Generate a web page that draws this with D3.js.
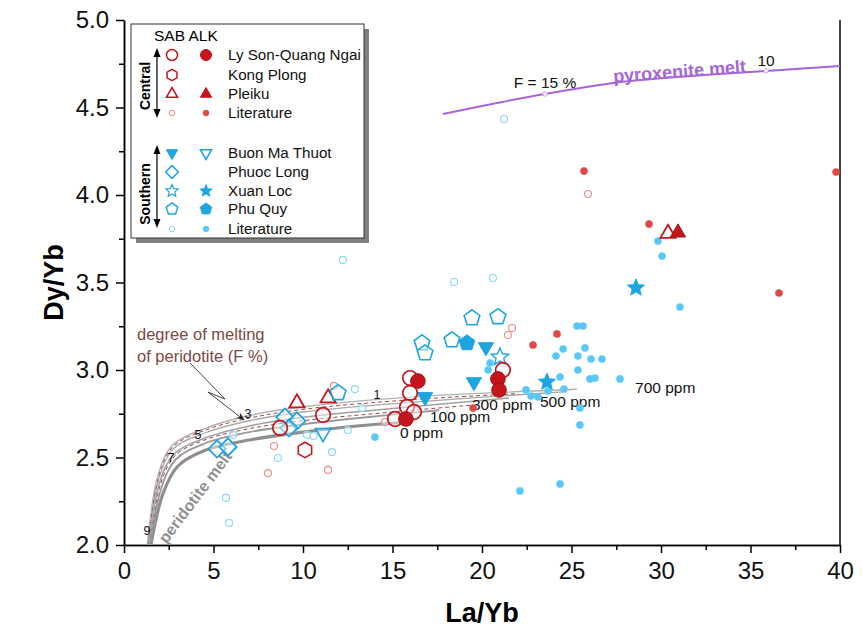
<!DOCTYPE html>
<html>
<head>
<meta charset="utf-8">
<script src="https://cdn.jsdelivr.net/npm/d3@7/dist/d3.min.js"></script>
<style>
body { margin: 0; background: #fff; }
text { font-family: Arial, "Liberation Sans", sans-serif; }
</style>
</head>
<body>
<div id="chart"></div>
<script>
// ---- data (La/Yb, Dy/Yb) ----
var xTicks = [0, 5, 10, 15, 20, 25, 30, 35, 40];
var yTicks = [2.0, 2.5, 3.0, 3.5, 4.0, 4.5, 5.0];

// Central Vietnam
var lySonSAB = [[15.98, 2.954], [15.98, 2.869], [15.81, 2.789], [15.14, 2.72], [16.2, 2.76], [21.17, 3.0], [11.12, 2.743], [8.72, 2.669]];
var lySonALK = [[16.42, 2.937], [15.75, 2.72], [20.89, 2.949], [20.95, 2.886]];
var kongPlongSAB = [[10.11, 2.543]];
var pleikuSAB = [[9.66, 2.811], [11.4, 2.84], [30.39, 3.78]];
var pleikuALK = [[30.95, 3.785]];
var centralLitSAB = [[25.92, 4.006], [21.68, 3.24], [21.45, 3.2], [8.38, 2.566], [8.04, 2.411], [11.4, 2.429], [11.73, 2.909], [14.58, 2.703]];
var centralLitALK = [[25.7, 4.137], [39.78, 4.131], [29.33, 3.834], [36.59, 3.44], [24.19, 3.206], [22.85, 3.143], [19.5, 2.783]];

// Southern Vietnam
var buonMaThuotSAB = [[20.22, 3.131], [19.55, 2.931], [16.82, 2.846]];
var buonMaThuotALK = [[11.12, 2.64]];
var phuocLongSAB = [[5.2, 2.549], [5.81, 2.56], [8.99, 2.731], [9.66, 2.709], [9.22, 2.669]];
var xuanLocSAB = [[21.0, 3.074]];
var xuanLocALK = [[23.63, 2.931], [28.6, 3.469]];
var phuQuySAB = [[19.44, 3.297], [20.89, 3.303], [18.32, 3.171], [16.65, 3.154], [16.82, 3.097], [11.96, 2.869]];
var phuQuyALK = [[19.16, 3.154]];
var southLitSAB = [[21.23, 4.434], [12.23, 3.629], [18.44, 3.503], [20.61, 3.526], [12.9, 2.891], [13.3, 2.783], [12.5, 2.657],
    [5.7, 2.269], [5.87, 2.126], [6.09, 2.629], [8.6, 2.497], [10.22, 2.629], [10.6, 2.623], [11.62, 2.531]];
var southLitALK = [[31.06, 3.36], [25.31, 3.251], [25.64, 3.251], [25.75, 3.126], [24.53, 3.12], [24.13, 3.08], [25.36, 3.08],
    [26.09, 3.063], [26.7, 3.063], [25.36, 3.0], [24.36, 2.96], [26.03, 2.949], [26.31, 2.954], [27.71, 2.949],
    [22.46, 2.886], [22.74, 2.851], [23.13, 2.846], [23.69, 2.88], [24.58, 2.891], [25.47, 2.783], [25.47, 2.686],
    [29.83, 3.737], [30.06, 3.651], [22.12, 2.309], [24.36, 2.349], [20.45, 3.04], [20.34, 3.0], [14.02, 2.617]];

// peridotite melting curves (different ppm)
var perid0 = [[1.5, 2.0], [2.2, 2.3], [3.0, 2.45], [4.5, 2.54], [7, 2.6], [10, 2.645], [13, 2.68], [15.6, 2.7]];
var perid100 = [[1.45, 2.0], [2.1, 2.33], [2.9, 2.49], [4.5, 2.58], [7, 2.645], [10, 2.69], [14, 2.735], [17.6, 2.77]];
var perid300 = [[1.4, 2.0], [2.0, 2.36], [2.8, 2.52], [4.5, 2.61], [7, 2.68], [10, 2.73], [15, 2.78], [21.5, 2.84]];
var perid500 = [[1.35, 2.0], [1.95, 2.38], [2.75, 2.55], [4.5, 2.64], [7, 2.71], [10, 2.76], [16, 2.815], [24.5, 2.875]];
var perid700 = [[1.3, 2.0], [1.9, 2.4], [2.7, 2.57], [4.5, 2.665], [7, 2.74], [10, 2.79], [16, 2.845], [25.3, 2.89]];
var peridDashA = [[1.42, 2.0], [2.05, 2.35], [2.85, 2.51], [4.5, 2.6], [7, 2.665], [10, 2.71], [15, 2.76], [19.5, 2.8]];
var peridDashB = [[1.33, 2.0], [1.92, 2.39], [2.72, 2.56], [4.5, 2.655], [7, 2.725], [10, 2.775], [16, 2.83], [22, 2.865]];
var peridPpmLabels = ["0 ppm", "100 ppm", "300 ppm", "500 ppm", "700 ppm"];
var peridPpmPos = [[15.42, 2.611], [17.09, 2.703], [19.44, 2.771], [23.24, 2.789], [28.55, 2.869]];
var peridF = ["9", "7", "5", "3", "1"];
var peridFPos = [[1.28, 2.08], [2.63, 2.5], [4.13, 2.63], [6.93, 2.75], [14.13, 2.86]];

// pyroxenite melt
var pyroxMelt = [[17.82, 4.463], [20.84, 4.526], [23.52, 4.577], [28.27, 4.651], [35.87, 4.709], [40, 4.737]];
var pyroxMarks = [[23.52, 4.577], [35.87, 4.709]];

// arrow "degree of melting"
var meltArrow = [[3.69, 3.04], [5.64, 2.834], [4.69, 2.874], [6.7, 2.715]];

// ---- layout ----
var W = 862, H = 637;
var margin = { top: 20, right: 22, bottom: 92, left: 124 };
var width = W - margin.left - margin.right;
var height = H - margin.top - margin.bottom;

var red = "#c4161c", redLit = "#e04848", redLitO = "#e88a8a";
var blue = "#1ea5e0", blueLit = "#5ac8f7", blueLitO = "#8ad6f5";
var brown = "#9a4a44", purple = "#a466d8";

var svg = d3.select("#chart").append("svg")
    .attr("width", W)
    .attr("height", H);

var g = svg.append("g")
    .attr("transform", "translate(" + margin.left + "," + margin.top + ")");

var x = d3.scaleLinear().domain([0, 40]).range([0, width]);
var y = d3.scaleLinear().domain([2, 5]).range([height, 0]);

// axes
var xAxis = d3.axisBottom(x).tickValues(xTicks).tickSize(8).tickSizeOuter(0).tickFormat(d3.format("d"));
var xMinor = d3.axisBottom(x).tickValues(d3.range(2.5, 40, 5)).tickSize(5).tickSizeOuter(0).tickFormat("");
var yAxis = d3.axisLeft(y).tickValues(yTicks).tickSize(8).tickSizeOuter(0).tickFormat(d3.format(".1f"));
var yMinor = d3.axisLeft(y).tickValues(d3.range(2.25, 5, 0.5)).tickSize(5).tickSizeOuter(0).tickFormat("");

function styleAxis(sel) {
    sel.selectAll("path").attr("stroke", "#000").attr("stroke-width", 1.5);
    sel.selectAll("line").attr("stroke", "#000").attr("stroke-width", 1.5);
    sel.selectAll("text").attr("font-size", "24px").attr("fill", "#111");
}

var gx = g.append("g").attr("transform", "translate(0," + height + ")").call(xAxis);
gx.call(styleAxis);
gx.selectAll("text").attr("dy", "0.95em");
g.append("g").attr("transform", "translate(0," + height + ")").call(xMinor).call(styleAxis);
var gy = g.append("g").call(yAxis);
gy.call(styleAxis);
gy.selectAll("text").attr("x", -15);
g.append("g").call(yMinor).call(styleAxis);

g.append("line")
    .attr("x1", width).attr("x2", width)
    .attr("y1", 0).attr("y2", height)
    .attr("stroke", "#000").attr("stroke-width", 1.5);

g.append("text")
    .attr("x", width / 2).attr("y", height + 77)
    .attr("text-anchor", "middle")
    .attr("font-size", "27px").attr("font-weight", "bold")
    .text("La/Yb");

g.append("text")
    .attr("transform", "translate(-61," + (height / 2) + ") rotate(-90)")
    .attr("text-anchor", "middle")
    .attr("font-size", "27px").attr("font-weight", "bold")
    .text("Dy/Yb");

// ---- curves ----
var line = d3.line()
    .curve(d3.curveCatmullRom)
    .x(function(d) { return x(d[0]); })
    .y(function(d) { return y(d[1]); });

var gCurves = g.append("g");
var curveStyles = [
    { data: perid0, stroke: "#8f8f8f", w: 3.2, dash: null },
    { data: perid100, stroke: "#9a9a9a", w: 1.8, dash: null },
    { data: peridDashA, stroke: brown, w: 1, dash: "4,3" },
    { data: perid300, stroke: "#a0a0a0", w: 1.6, dash: null },
    { data: perid500, stroke: "#a8a8a8", w: 1.3, dash: null },
    { data: peridDashB, stroke: brown, w: 1, dash: "4,3" },
    { data: perid700, stroke: "#b0b0b0", w: 1.3, dash: null }
];
curveStyles.forEach(function(c) {
    gCurves.append("path")
        .attr("d", line(c.data))
        .attr("fill", "none")
        .attr("stroke", c.stroke)
        .attr("stroke-width", c.w)
        .attr("stroke-dasharray", c.dash);
});

peridPpmLabels.forEach(function(t, i) {
    gCurves.append("text")
        .attr("x", x(peridPpmPos[i][0])).attr("y", y(peridPpmPos[i][1]))
        .attr("font-size", "15.5px").attr("fill", "#111")
        .text(t);
});

peridF.forEach(function(t, i) {
    gCurves.append("text")
        .attr("x", x(peridFPos[i][0])).attr("y", y(peridFPos[i][1]))
        .attr("font-size", "12.5px").attr("fill", "#111")
        .attr("text-anchor", "middle")
        .attr("dy", "0.35em")
        .text(t);
});

gCurves.append("text")
    .attr("transform", "translate(" + x(3.97) + "," + y(2.274) + ") rotate(-53)")
    .attr("text-anchor", "middle")
    .attr("dy", "0.35em")
    .attr("font-size", "16px").attr("font-weight", "bold").attr("fill", "#909090")
    .text("peridotite melt");

gCurves.append("text")
    .attr("x", 13).attr("y", 320)
    .attr("font-size", "16.5px").attr("fill", "#7a4a44")
    .text("degree of melting");
gCurves.append("text")
    .attr("x", 13).attr("y", 342)
    .attr("font-size", "16.5px").attr("fill", "#7a4a44")
    .text("of peridotite (F %)");

svg.append("defs").append("marker")
    .attr("id", "ah").attr("viewBox", "0 0 10 10")
    .attr("refX", 9).attr("refY", 5)
    .attr("markerWidth", 9).attr("markerHeight", 9)
    .attr("orient", "auto")
    .append("path").attr("d", "M0,1L10,5L0,9L3,5Z").attr("fill", "#222");

gCurves.append("path")
    .attr("d", d3.line().x(function(d) { return x(d[0]); }).y(function(d) { return y(d[1]); })(meltArrow))
    .attr("fill", "none").attr("stroke", "#333").attr("stroke-width", 0.9)
    .attr("marker-end", "url(#ah)");

// pyroxenite melt
gCurves.append("path")
    .attr("d", line(pyroxMelt))
    .attr("fill", "none").attr("stroke", purple).attr("stroke-width", 2);
gCurves.selectAll(".pm").data(pyroxMarks).enter().append("circle")
    .attr("cx", function(d) { return x(d[0]); })
    .attr("cy", function(d) { return y(d[1]); })
    .attr("r", 2.2).attr("fill", "#fff").attr("stroke", "#c9a0e8").attr("stroke-width", 1);
gCurves.append("text")
    .attr("x", x(23.52)).attr("y", y(4.577) - 6)
    .attr("text-anchor", "middle").attr("font-size", "15.5px").attr("fill", "#111")
    .text("F = 15 %");
gCurves.append("text")
    .attr("x", x(35.87)).attr("y", y(4.709) - 5)
    .attr("text-anchor", "middle").attr("font-size", "15.5px").attr("fill", "#111")
    .text("10");
gCurves.append("text")
    .attr("transform", "translate(" + x(31.06) + "," + y(4.672) + ") rotate(-4.3)")
    .attr("text-anchor", "middle").attr("font-size", "18px").attr("font-weight", "bold").attr("fill", purple)
    .text("pyroxenite melt");

// ---- markers ----
function polyPath(n, r, rot, inner) {
    var pts = [];
    var k = inner ? n * 2 : n;
    for (var i = 0; i < k; i++) {
        var a = rot + i * 2 * Math.PI / k;
        var rr = (inner && i % 2 == 1) ? r * inner : r;
        pts.push([rr * Math.cos(a), rr * Math.sin(a)]);
    }
    return "M" + pts.map(function(p) { return p[0].toFixed(2) + "," + p[1].toFixed(2); }).join("L") + "Z";
}

function shape(type, r) {
    if (type == "circle") return d3.symbol(d3.symbolCircle, Math.PI * r * r)();
    if (type == "triangle") return polyPath(3, r * 1.25, -Math.PI / 2);
    if (type == "tridown") return polyPath(3, r * 1.25, Math.PI / 2);
    if (type == "diamond") return polyPath(4, r * 1.15, 0);
    if (type == "pentagon") return polyPath(5, r * 1.1, -Math.PI / 2);
    if (type == "hexagon") return polyPath(6, r * 1.1, -Math.PI / 2);
    if (type == "star") return polyPath(5, r * 1.3, -Math.PI / 2, 0.45);
}

function drawSet(parent, data, type, r, fill, stroke, sw, px) {
    parent.selectAll(null).data(data).enter().append("path")
        .attr("d", shape(type, r))
        .attr("transform", function(d) {
            return px ? "translate(" + d[0] + "," + d[1] + ")"
                      : "translate(" + x(d[0]) + "," + y(d[1]) + ")";
        })
        .attr("fill", fill)
        .attr("fill-opacity", fill == "#fff" ? 0.45 : 1)
        .attr("stroke", stroke)
        .attr("stroke-width", sw);
}

var gPts = g.append("g");
drawSet(gPts, centralLitSAB, "circle", 3.5, "#fff", redLitO, 1.1);
drawSet(gPts, southLitSAB, "circle", 3.5, "#fff", blueLitO, 1.1);
drawSet(gPts, centralLitALK, "circle", 3.6, redLit, redLit, 0.5);
drawSet(gPts, southLitALK, "circle", 3.6, blueLit, blueLit, 0.5);
drawSet(gPts, phuocLongSAB, "diamond", 7.5, "#fff", blue, 1.8);
drawSet(gPts, kongPlongSAB, "hexagon", 7, "#fff", red, 1.6);
drawSet(gPts, pleikuSAB, "triangle", 7, "#fff", red, 1.8);
drawSet(gPts, pleikuALK, "triangle", 7, red, "#a01015", 1);
drawSet(gPts, phuQuySAB, "pentagon", 7.5, "#fff", blue, 1.6);
drawSet(gPts, phuQuyALK, "pentagon", 7.5, blue, blue, 1);
drawSet(gPts, buonMaThuotSAB, "tridown", 7, blue, blue, 1);
drawSet(gPts, buonMaThuotALK, "tridown", 7, "#fff", blue, 1.6);
drawSet(gPts, xuanLocSAB, "star", 7, "#fff", blue, 1.4);
drawSet(gPts, xuanLocALK, "star", 7, blue, blue, 0.8);
drawSet(gPts, lySonSAB, "circle", 7.3, "#fff", red, 1.7);
drawSet(gPts, lySonALK, "circle", 7.3, red, "#a01015", 1);

// ---- legend ----
var lg = svg.append("g");
lg.append("rect").attr("x", 136).attr("y", 29).attr("width", 233).attr("height", 214).attr("fill", "#808080");
lg.append("rect").attr("x", 131).attr("y", 24).attr("width", 233).attr("height", 214)
    .attr("fill", "#fff").attr("stroke", "#333").attr("stroke-width", 1);
lg.append("text").attr("x", 154).attr("y", 41).attr("font-size", "15.5px").text("SAB ALK");

var cSAB = 172, cALK = 206, cTxt = 228;
var rows = [
    { y: 55, a: ["circle", 5.5, "#fff", red, 1.5], b: ["circle", 5.5, red, red, 1], t: "Ly Son-Quang Ngai" },
    { y: 75, a: ["hexagon", 5.2, "#fff", red, 1.5], b: null, t: "Kong Plong" },
    { y: 94, a: ["triangle", 5.2, "#fff", red, 1.5], b: ["triangle", 5.2, red, red, 1], t: "Pleiku" },
    { y: 113, a: ["circle", 2.8, "#fff", redLitO, 1], b: ["circle", 3, redLit, redLit, 0.5], t: "Literature" },
    { y: 153, a: ["tridown", 5.2, blue, blue, 1], b: ["tridown", 5.2, "#fff", blue, 1.5], t: "Buon Ma Thuot" },
    { y: 172, a: ["diamond", 5.5, "#fff", blue, 1.5], b: null, t: "Phuoc Long" },
    { y: 191, a: ["star", 5, "#fff", blue, 1.2], b: ["star", 5, blue, blue, 0.8], t: "Xuan Loc" },
    { y: 209, a: ["pentagon", 5.5, "#fff", blue, 1.5], b: ["pentagon", 5.5, blue, blue, 1], t: "Phu Quy" },
    { y: 229, a: ["circle", 2.8, "#fff", blueLitO, 1], b: ["circle", 3, blueLit, blueLit, 0.5], t: "Literature" }
];
rows.forEach(function(r) {
    drawSet(lg, [[cSAB, r.y]], r.a[0], r.a[1], r.a[2], r.a[3], r.a[4], true);
    if (r.b) drawSet(lg, [[cALK, r.y]], r.b[0], r.b[1], r.b[2], r.b[3], r.b[4], true);
    lg.append("text").attr("x", cTxt).attr("y", r.y).attr("dy", "0.36em")
        .attr("font-size", "15.2px").attr("fill", "#111").text(r.t);
});
lg.selectAll("path").attr("fill-opacity", 1);

function dblArrow(x0, y0, y1) {
    lg.append("line").attr("x1", x0).attr("x2", x0).attr("y1", y0 + 6).attr("y2", y1 - 6)
        .attr("stroke", "#000").attr("stroke-width", 1.2);
    lg.append("path").attr("d", "M" + x0 + "," + y0 + "l-3.5,9l7,0z").attr("fill", "#000");
    lg.append("path").attr("d", "M" + x0 + "," + y1 + "l-3.5,-9l7,0z").attr("fill", "#000");
}
dblArrow(157, 48, 118);
dblArrow(157, 145, 228);
lg.append("text").attr("transform", "translate(150,86) rotate(-90)")
    .attr("text-anchor", "middle").attr("font-size", "14px").attr("font-weight", "bold").text("Central");
lg.append("text").attr("transform", "translate(150,194) rotate(-90)")
    .attr("text-anchor", "middle").attr("font-size", "14px").attr("font-weight", "bold").text("Southern");
</script>
</body>
</html>
